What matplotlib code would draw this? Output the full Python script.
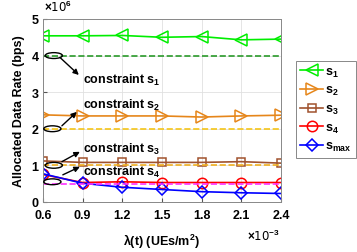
import numpy as np
import matplotlib
matplotlib.use('Agg')
import matplotlib.pyplot as plt
from matplotlib.patches import Ellipse

plt.rcParams['font.family'] = 'Liberation Sans'
plt.rcParams['font.weight'] = 'bold'
plt.rcParams['axes.labelweight'] = 'bold'
plt.rcParams['mathtext.fontset'] = 'custom'
plt.rcParams['mathtext.rm'] = 'Liberation Sans:bold'
plt.rcParams['mathtext.bf'] = 'Liberation Sans:bold'
plt.rcParams['mathtext.default'] = 'bf'

# dữ liệu (x: 1e-3 UEs/m^2, y: 1e6 bps)
lam = [0.6, 0.9, 1.2, 1.5, 1.8, 2.1, 2.4]
s1 = [4.54, 4.54, 4.55, 4.50, 4.52, 4.43, 4.45]
s2 = [2.38, 2.35, 2.35, 2.35, 2.32, 2.35, 2.37]
s3 = [1.12, 1.08, 1.08, 1.08, 1.08, 1.10, 1.06]
s4 = [0.75, 0.53, 0.55, 0.53, 0.53, 0.53, 0.53]
smax = [0.77, 0.51, 0.40, 0.34, 0.28, 0.25, 0.23]
constraints = [4.0, 2.0, 1.0, 0.5]
xticks = [0.6, 0.9, 1.2, 1.5, 1.8, 2.1, 2.4]
yticks = [0, 1, 2, 3, 4, 5]

fig = plt.figure(figsize=(3.57, 2.53), dpi=100)
ax = fig.add_axes([0.120, 0.198, 0.667, 0.723])

lw = 1.2
ms = 8
ax.plot(lam, s1, '-<', color='#00ee00', lw=lw, ms=ms, mfc='none', mew=1.1, label=r'$s_1$')
ax.plot(lam, s2, '->', color='#e6861a', lw=lw, ms=ms, mfc='none', mew=1.1, label=r'$s_2$')
ax.plot(lam, s3, '-s', color='#a0522d', lw=lw, ms=6, mfc='none', mew=1.1, label=r'$s_3$')
ax.plot(lam, s4, '-o', color='#ff0000', lw=lw, ms=7.5, mfc='none', mew=1.1, label=r'$s_4$')
ax.plot(lam, smax, '-D', color='#0000ff', lw=lw, ms=6, mfc='none', mew=1.1, label=r'$s_{max}$')

c_colors = ['#2a9a2a', '#f5c518', '#f0b020', '#ff30ff']
for c, col in zip(constraints, c_colors):
    ax.plot([lam[0], lam[-1]], [c, c], '--', color=col, lw=1.2)

# ellipse + mũi tên + chữ
ell_y = [4.0, 2.0, 1.0, 0.55]
ell_x = [0.683, 0.672, 0.683, 0.672]
tails = [(0.729, 3.95), (0.744, 2.08), (0.744, 1.10), (0.751, 0.74)]
heads = [(0.872, 3.47), (0.857, 2.46), (0.880, 1.37), (0.880, 0.96)]
texts = [3.34, 2.67, 1.47, 0.82]
for i in range(4):
    ax.add_patch(Ellipse((ell_x[i], ell_y[i]), 0.13, 0.16, fill=False,
                         ec='black', lw=1.0, clip_on=False, zorder=5))
    ax.annotate('', xy=heads[i], xytext=tails[i],
                arrowprops=dict(arrowstyle='-|>', color='black', lw=1.0,
                                mutation_scale=8, shrinkA=0, shrinkB=0))
    ax.text(0.9, texts[i], 'constraint s$_%d$' % (i + 1), fontsize=9,
            va='center', ha='left', fontweight='bold', zorder=6)

ax.set_xlim(0.6, 2.4)
ax.set_ylim(0, 5)
ax.set_xticks(xticks)
ax.set_xticklabels(['%.1f' % v for v in xticks])
ax.set_yticks(yticks)
ax.tick_params(direction='in', labelsize=9, length=3, color='#555555', pad=3)
ax.tick_params(axis='x', pad=5)
ax.grid(True, color='#e0e0e0', lw=0.6)
for sp in ax.spines.values():
    sp.set_color('#888888')
    sp.set_linewidth(0.7)

ax.set_xlabel(r'λ(t) (UEs/m$^2$)', fontsize=9, labelpad=8)
ax.set_ylabel('Allocated Data Rate (bps)', fontsize=9, labelpad=5)
fig.text(0.123, 0.94, r'$\times$10$^6$', fontsize=8.5, fontweight='normal',
         ha='left', va='bottom', family='DejaVu Sans')
fig.text(0.785, 0.035, r'$\times$10$^{-3}$', fontsize=8.5, fontweight='normal',
         ha='right', va='bottom', family='DejaVu Sans')

leg = ax.legend(loc='upper left', bbox_to_anchor=(1.063, 0.77), fontsize=9,
                handlelength=1.8, handletextpad=0.2, borderpad=0.35,
                labelspacing=0.45, fancybox=False, framealpha=1,
                edgecolor='#888888', borderaxespad=0)
leg.get_frame().set_linewidth(0.7)

fig.savefig('out.png', dpi=100)
